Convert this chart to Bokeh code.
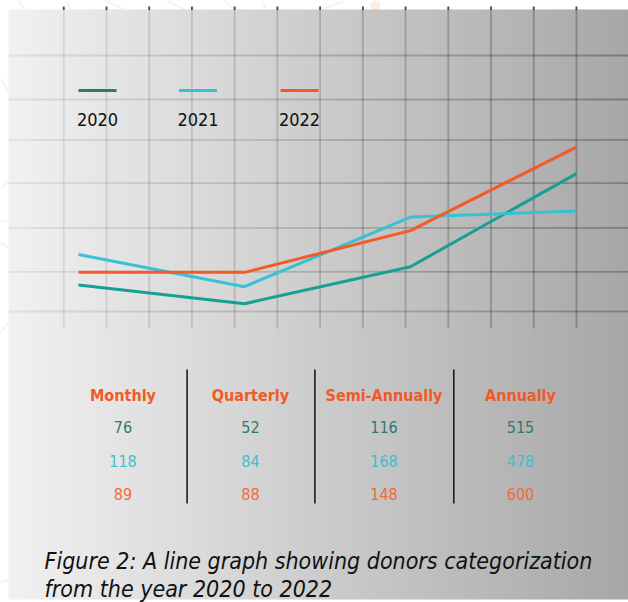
from bokeh.plotting import figure
from bokeh.models import Range1d
from bokeh.core.properties import value
from bokeh.embed import file_html
from bokeh.resources import INLINE

# ---------------- data ----------------
categories = ["Monthly", "Quarterly", "Semi-Annually", "Annually"]
years = ["2020", "2021", "2022"]
# values shown in the table
donors_2020 = [76, 52, 116, 515]
donors_2021 = [118, 84, 168, 478]
donors_2022 = [89, 88, 148, 600]
# line heights as drawn in the graph (chart units)
line_2020 = [61, 18, 103, 317]
line_2021 = [131, 57, 217, 231]
line_2022 = [90, 90, 186, 378]
caption_lines = ["Figure 2: A line graph showing donors categorization",
                 "from the year 2020 to 2022"]

# ---------------- styles ----------------
FONT = "DejaVu Sans Condensed"
C_LINE = ["#14a096", "#36c2d2", "#f25a26"]
C_SWATCH = ["#2b7b70", "#36c2d2", "#f25a26"]
C_ROW = ["#2b7b70", "#3cc0d0", "#f26a35"]
C_HEAD = "#f15a24"
C_ORN = "#fdede2"

W, H, M = 628, 602, 0          # figure size and page offset
# data scale anchors (page pixel coordinates)
X0_PX, X3_PX = 78, 576          # first / last category
Y0_PX, Y_PX_PER_UNIT = 311, 0.435

unit_x = (X3_PX - X0_PX) / 3.0
x_start = (M - X0_PX) / unit_x
x_end = (M + W - X0_PX) / unit_x
y_start = (Y0_PX - (M + H)) / Y_PX_PER_UNIT
y_end = (Y0_PX - M) / Y_PX_PER_UNIT

p = figure(width=W, height=H, output_backend="svg", toolbar_location=None,
           x_range=Range1d(x_start, x_end), y_range=Range1d(y_start, y_end),
           min_border=0)
p.extra_x_ranges = {"px": Range1d(M, M + W)}
p.extra_y_ranges = {"px": Range1d(M + H, M)}
p.axis.visible = False
p.grid.visible = False
p.outline_line_color = None
p.background_fill_color = "white"
p.border_fill_color = "white"

PXR = dict(x_range_name="px", y_range_name="px")

# ---------------- faint ornament in the white margin ----------------
orn_x0 = [18, 66, 104, 166, 224, 262, 344, 0, 0, 0, 0, 0, 0]
orn_x1 = [24, 70, 124, 184, 234, 265, 322, 8, 8, 8, 8, 8, 8]
orn_y0 = [0, 0, 0, 0, 0, 0, 0, 78, 188, 220, 242, 332, 582]
orn_y1 = [9, 9, 9, 9, 9, 9, 9, 92, 181, 221, 247, 322, 580]
p.segment(x0=orn_x0, x1=orn_x1, y0=orn_y0, y1=orn_y1, line_color=C_ORN,
          line_width=1.5, **PXR)
p.circle(x=[375], y=[5], radius=5, fill_color=C_ORN, line_color=None, **PXR)

# ---------------- background gradient panel ----------------
PX0, PX1, PY0, PY1 = 8, 628, 9, 599
n = 124
step = (PX1 - PX0) / n
lefts, rights, cols = [], [], []
for i in range(n):
    l = PX0 + i * step
    t = (i + 0.5) / n
    g = int(round(241 - (241 - 167) * t))
    lefts.append(l)
    rights.append(l + step + 0.6)
    cols.append("#%02x%02x%02x" % (g, g, g))
p.quad(left=lefts, right=rights, bottom=PY1, top=PY0, fill_color=cols,
       line_color=None, **PXR)

# ---------------- grid ----------------
vx = [63.3 + 42.72 * k for k in range(13)]
def alpha_at(x):
    return 0.07 + 0.19 * (x - PX0) / (PX1 - PX0)
p.segment(x0=vx, x1=vx, y0=[9] * 13, y1=[328] * 13, line_color="black",
          line_alpha=[alpha_at(x) for x in vx], line_width=1.8, **PXR)
p.segment(x0=vx, x1=vx, y0=[6] * 13, y1=[9.5] * 13, line_color="#444444",
          line_width=1.8, **PXR)
hy = [55, 99, 139.3, 182.7, 227.3, 271.3, 311]
sx0, sx1, sy, sa = [], [], [], []
segw = 10
for y in hy:
    x = PX0
    while x < PX1:
        sx0.append(x); sx1.append(x + segw); sy.append(y)
        sa.append(alpha_at(x + segw / 2))
        x += segw
p.segment(x0=sx0, x1=sx1, y0=sy, y1=sy, line_color="black", line_alpha=sa,
          line_width=1.8, **PXR)

# ---------------- data lines ----------------
idx = list(range(len(categories)))
for vals, c in zip([line_2020, line_2021, line_2022], C_LINE):
    p.line(x=idx, y=vals, line_color=c, line_width=3, line_join="round")

# ---------------- legend ----------------
leg_cx = [97, 197.5, 299]
leg_y = 90
p.segment(x0=[c - 19 for c in leg_cx], x1=[c + 19 for c in leg_cx],
          y0=[leg_y] * 3, y1=[leg_y] * 3, line_color=C_SWATCH, line_width=3,
          **PXR)
p.text(x=leg_cx, y=[119] * 3, text=years, text_font=value(FONT),
       text_font_size="18px", text_color="#111111", text_align="center",
       text_baseline="alphabetic", **PXR)

# ---------------- table ----------------
col_cx = [122.5, 250, 383.5, 520]
p.text(x=col_cx, y=[395] * 4, text=categories, text_font=value(FONT),
       text_font_style="bold", text_font_size="16px", text_color=C_HEAD,
       text_align="center", text_baseline="alphabetic", **PXR)
row_y = [426, 460, 493.5]
for vals, ry, c in zip([donors_2020, donors_2021, donors_2022], row_y, C_ROW):
    p.text(x=col_cx, y=[ry] * 4, text=[str(v) for v in vals],
           text_font=value(FONT), text_font_size="16px", text_color=c,
           text_align="center", text_baseline="alphabetic", **PXR)
sep_x = [186.6, 314.4, 453.3]
p.segment(x0=sep_x, x1=sep_x, y0=[369] * 3, y1=[503] * 3, line_color="#111111",
          line_width=1.5, **PXR)

# ---------------- caption ----------------
p.text(x=[44, 44], y=[560.5, 588], text=caption_lines, text_font=value(FONT),
       text_font_style="italic", text_font_size="23px", text_color="#111111",
       text_align="left", text_baseline="alphabetic", **PXR)

open("out.html", "w").write(file_html(p, INLINE))
